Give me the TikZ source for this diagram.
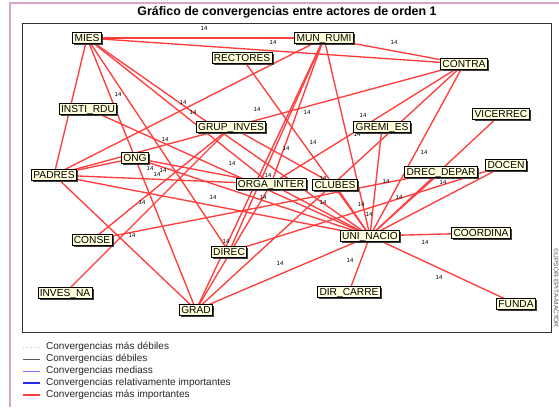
\documentclass[tikz,border=0pt]{standalone}
\usepackage{fontspec}
\setmainfont{Liberation Sans}
\usetikzlibrary{shadows}
\definecolor{edgered}{RGB}{255,62,62}
\definecolor{nodefill}{RGB}{255,255,222}
\definecolor{pinkframe}{RGB}{214,164,196}
\definecolor{legblue}{RGB}{110,110,255}
\definecolor{legblueb}{RGB}{40,40,255}
\pgfdeclarelayer{bglayer}
\pgfdeclarelayer{edgelayer}
\pgfsetlayers{bglayer,edgelayer,main}
\begin{document}
\begin{tikzpicture}[x=1pt,y=-1pt,
 actor/.style={draw=black, line width=0.8pt, fill=nodefill,
   font=\fontsize{10.2}{10}\selectfont, inner xsep=1.8pt, inner ysep=1.9pt,
   text height=7.3pt, text depth=0pt,
   drop shadow={shadow xshift=1.7pt, shadow yshift=-1.7pt, fill=black!75, opacity=1}},
 conv/.style={draw=edgered, line width=1.35pt},
 lab/.style={font=\fontsize{6}{6}\selectfont, inner sep=0pt},
 legtext/.style={font=\fontsize{10}{10}\selectfont, anchor=west, inner sep=0pt, text=black!85},
]
\useasboundingbox (0,0) rectangle (559,407);
\begin{pgfonlayer}{bglayer}
\fill[white] (0,0) rectangle (559,407);
\draw[pinkframe, line width=1.5pt] (10,407) -- (10,3) -- (559,3);
\draw[black!80, line width=0.8pt] (22,23) rectangle (551,332);
\end{pgfonlayer}

\node[font=\bfseries\fontsize{12.4}{12.4}\selectfont, inner sep=0pt] (title) at (287,12) {Gráfico de convergencias entre actores de orden 1};

% actors
\node[actor] (mies)    at (87,38)   {MIES};
\node[actor] (mun)     at (324,38)  {MUN\_RUMI};
\node[actor] (rect)    at (242,58)  {RECTORES};
\node[actor] (contra)  at (464,64)  {CONTRA};
\node[actor] (insti)   at (88,109)  {INSTI\_RDU};
\node[actor] (vice)    at (501,114) {VICERREC};
\node[actor] (grup)    at (231,127) {GRUP\_INVES};
\node[actor] (gremi)   at (382,127) {GREMI\_ES};
\node[actor] (ong)     at (135,158) {ONG};
\node[actor] (docen)   at (506,165) {DOCEN};
\node[actor] (drec)    at (441,172) {DREC\_DEPAR};
\node[actor] (padres)  at (54,175)  {PADRES};
\node[actor] (orga)    at (271,184) {ORGA\_INTER};
\node[actor] (clubes)  at (335,185) {CLUBES};
\node[actor] (coord)   at (481,233) {COORDINA};
\node[actor] (uni)     at (370,236) {UNI\_NACIO};
\node[actor] (conse)   at (92,240)  {CONSE};
\node[actor] (direc)   at (229,252) {DIREC};
\node[actor] (dircar)  at (349,292) {DIR\_CARRE};
\node[actor] (invesna) at (65,293)  {INVES\_NA};
\node[actor] (grad)    at (196,310) {GRAD};
\node[actor] (funda)   at (516,304) {FUNDA};

\begin{pgfonlayer}{edgelayer}
\foreach \a/\b in {mies/mun, mies/contra, mies/padres, mies/grad, mies/direc, mies/orga, mies/uni,
  mun/contra, mun/padres, mun/orga, mun/direc, mun/grad, mun/uni,
  contra/padres, contra/orga, contra/grad, contra/uni,
  rect/uni, insti/uni, ong/padres, ong/orga, ong/uni,
  padres/orga, padres/uni, padres/grad,
  grup/conse, grup/invesna, grup/clubes, orga/grad, orga/uni,
  clubes/uni, gremi/uni, drec/uni, vice/uni, docen/direc, docen/uni,
  conse/drec, uni/coord, uni/dircar, uni/funda, uni/grad}
  \draw[conv] (\a.center) -- (\b.center);
\foreach \x/\y [count=\i] in {204/28, 273/42, 394/42, 118/94, 183/102, 193/112, 257/109, 307/112,
  363/115, 357/134, 165/139, 313/142, 286/148, 424/152, 232/163, 150/168, 157/174, 163/170,
  268/175, 323/178, 386/181, 443/182, 213/197, 263/197, 399/197, 323/202, 361/204, 369/214,
  142/202, 132/235, 226/241, 425/242, 350/260, 280/263, 439/277}
  \node[lab] (lab\i) at (\x,\y) {14};
\end{pgfonlayer}

% legend
\coordinate (la1) at (23,347); \coordinate (lb1) at (40,347);
\coordinate (la2) at (23,359); \coordinate (lb2) at (40,359);
\coordinate (la3) at (23,371); \coordinate (lb3) at (40,371);
\coordinate (la4) at (23,383); \coordinate (lb4) at (40,383);
\coordinate (la5) at (23,395); \coordinate (lb5) at (40,395);
\draw[gray!45, line width=0.7pt, dotted] (la1) -- (lb1);
\draw[gray!70!black, line width=0.7pt] (la2) -- (lb2);
\draw[legblue, line width=0.8pt] (la3) -- (lb3);
\draw[legblueb, line width=1.3pt] (la4) -- (lb4);
\draw[edgered, line width=1.3pt] (la5) -- (lb5);
\node[legtext] (t1) at (46,347) {Convergencias más débiles};
\node[legtext] (t2) at (46,359) {Convergencias débiles};
\node[legtext] (t3) at (46,371) {Convergencias mediass};
\node[legtext] (t4) at (46,383) {Convergencias relativamente importantes};
\node[legtext] (t5) at (46,395) {Convergencias más importantes};

\node[font=\fontsize{6.5}{6.5}\selectfont, text=black!65, rotate=-90, inner sep=0pt] (wm) at (556,288) {©LIPSOR-EPITA-MACTOR};
\end{tikzpicture}
\end{document}
